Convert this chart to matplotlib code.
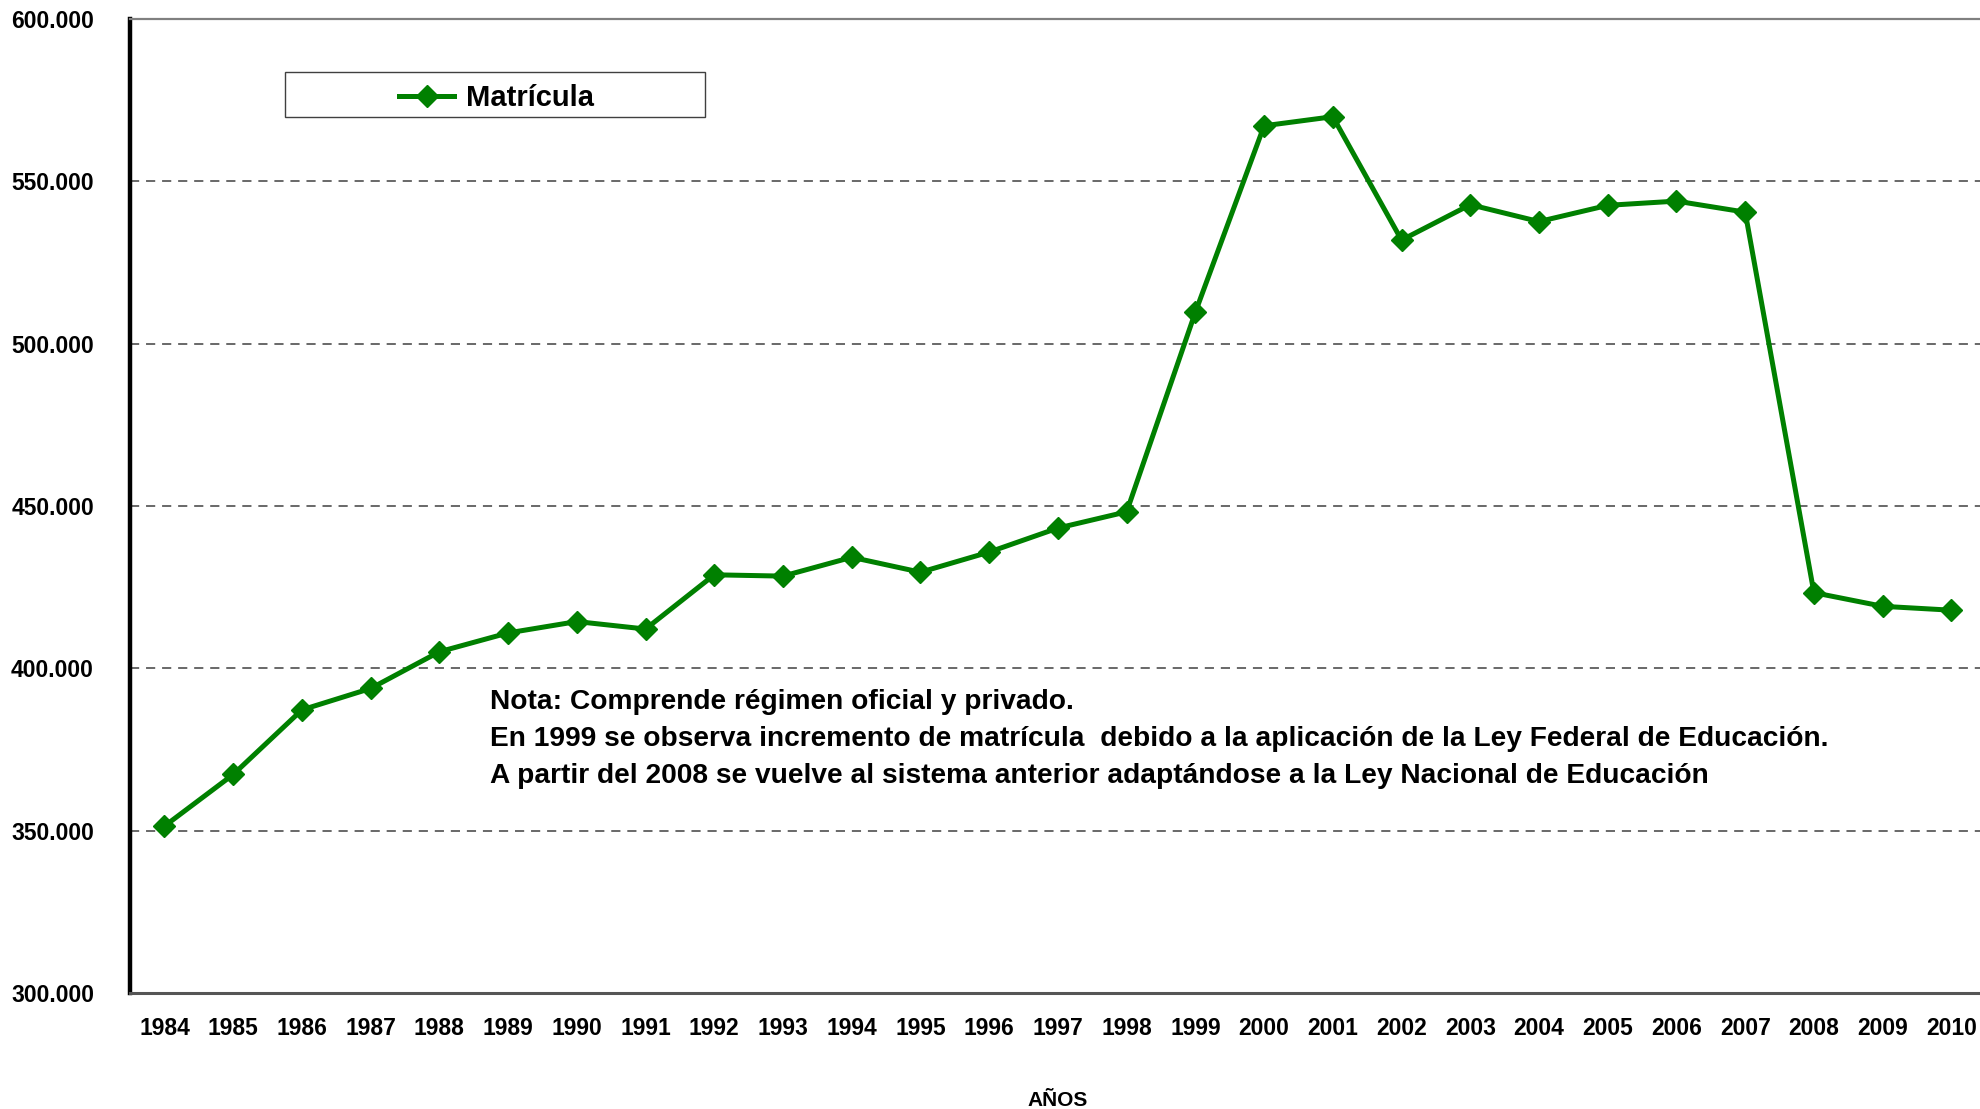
import matplotlib
matplotlib.use("Agg")
import matplotlib.pyplot as plt
from matplotlib.ticker import FuncFormatter
from matplotlib.patches import Rectangle

plt.rcParams['font.family'] = ['Liberation Sans', 'DejaVu Sans']
plt.rcParams['font.weight'] = 'bold'

years = ['1984', '1985', '1986', '1987', '1988', '1989', '1990', '1991', '1992',
         '1993', '1994', '1995', '1996', '1997', '1998', '1999', '2000', '2001',
         '2002', '2003', '2004', '2005', '2006', '2007', '2008', '2009', '2010']
matricula = [351400, 367300, 387200, 393800, 405100, 410900, 414400, 412100, 428800,
             428400, 434200, 429600, 435800, 443200, 448200, 509700, 567100, 569900,
             531900, 542800, 537600, 542600, 543900, 540500, 423300, 419100, 417900]
yticks = [300000, 350000, 400000, 450000, 500000, 550000, 600000]
series_name = 'Matrícula'
xlabel = 'AÑOS'
notes = ['Nota: Comprende régimen oficial y privado.',
         'En 1999 se observa incremento de matrícula  debido a la aplicación de la Ley Federal de Educación.',
         'A partir del 2008 se vuelve al sistema anterior adaptándose a la Ley Nacional de Educación']

fig = plt.figure(figsize=(19.8, 11.09), dpi=100)
ax = fig.add_axes([0.0657, 0.1046, 0.9372, 0.8783])

x = list(range(len(years)))
line, = ax.plot(x, matricula, color='#008000', lw=3.6, marker='D', markersize=11.5,
                markerfacecolor='#008000', markeredgecolor='#008000', label=series_name,
                zorder=3, clip_on=False)

ax.set_xlim(-0.5, len(years) - 0.5)
ax.set_ylim(yticks[0], yticks[-1])
ax.set_yticks(yticks)
ax.yaxis.set_major_formatter(FuncFormatter(lambda v, p: f"{int(v):,}".replace(',', '.')))
ax.set_xticks(x)
ax.set_xticklabels(years)

ax.tick_params(axis='y', length=0, pad=26, labelsize=16.5)
ax.tick_params(axis='x', length=0, pad=17, labelsize=16.5)
for lab in ax.get_xticklabels() + ax.get_yticklabels():
    lab.set_fontweight('bold')

for yv in yticks[1:-1]:
    ax.axhline(yv, color='#404040', lw=1.1, ls=(0, (6, 4.5)), zorder=1)

ax.spines['left'].set_color('black')
ax.spines['left'].set_linewidth(3.2)
ax.spines['top'].set_color('#808080')
ax.spines['top'].set_linewidth(1.6)
ax.spines['bottom'].set_color('#555555')
ax.spines['bottom'].set_linewidth(2.2)
ax.spines['right'].set_visible(False)

ax.set_xlabel(xlabel, fontsize=15, fontweight='bold', labelpad=37)

# legend box
ax.add_patch(Rectangle((0.0835, 0.8994), 0.2265, 0.0462, transform=ax.transAxes,
                       facecolor='white', edgecolor='#404040', lw=1.0, zorder=4))
leg = ax.legend(loc='center', bbox_to_anchor=(0.1975, 0.9185), frameon=False,
                prop={'size': 21, 'weight': 'bold'}, handlelength=1.9,
                handletextpad=0.4, borderpad=0, borderaxespad=0)
leg.set_zorder(5)
for h in leg.legend_handles:
    h.set_markersize(11.5)

ys = [0.2990, 0.2610, 0.2230]
for t, yy in zip(notes, ys):
    ax.text(0.194, yy, t, transform=ax.transAxes, fontsize=20.25, fontweight='bold',
            va='center', ha='left')

fig.savefig('out.png', dpi=100)
